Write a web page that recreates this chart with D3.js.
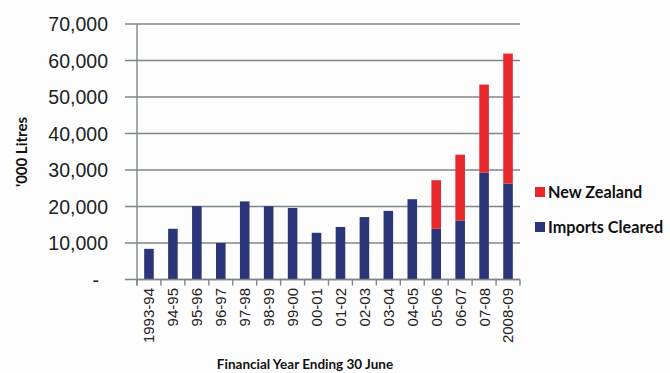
<!DOCTYPE html>
<html>
<head>
<meta charset="utf-8">
<script src="https://cdn.jsdelivr.net/npm/d3@7"></script>
<style>
  html, body { margin: 0; padding: 0; background: #fdfdfd; }
  svg { display: block; }
</style>
</head>
<body>
<svg id="chart" width="670" height="373"></svg>
<script>
// Financial years (ending 30 June)
const years = ["1993-94","94-95","95-96","96-97","97-98","98-99","99-00","00-01",
               "01-02","02-03","03-04","04-05","05-06","06-07","07-08","2008-09"];
// '000 litres, imports cleared
const importsCleared = [8400, 13900, 20100, 10000, 21400, 20100, 19600, 12800,
                        14400, 17100, 18800, 22000, 13900, 16200, 29300, 26300];
// '000 litres, from New Zealand
const newZealand = [0, 0, 0, 0, 0, 0, 0, 0,
                    0, 0, 0, 0, 13300, 18000, 24100, 35600];
const yTicks = [0, 10000, 20000, 30000, 40000, 50000, 60000, 70000];
const seriesNames = ["Imports Cleared", "New Zealand"];
const seriesColors = ["#2a3678", "#e8282c"];

const svg = d3.select("#chart");
const plotLeft = 137, plotRight = 520, plotTop = 24, plotBottom = 279.5;

const x = d3.scaleBand().domain(years).range([plotLeft, plotRight]).paddingInner(0.6).paddingOuter(0.3);
const y = d3.scaleLinear().domain([0, 70000]).range([plotBottom, plotTop]);

const rows = years.map((yr, i) => ({ year: yr, "Imports Cleared": importsCleared[i], "New Zealand": newZealand[i] }));
const stacked = d3.stack().keys(seriesNames)(rows);

// gridlines with outward ticks on the value axis
svg.append("g").selectAll("line").data(yTicks).join("line")
  .attr("x1", plotLeft - 12).attr("x2", plotRight)
  .attr("y1", d => y(d)).attr("y2", d => y(d))
  .attr("stroke", "#7d8787").attr("stroke-width", 1.4);

// value axis labels
svg.append("g").selectAll("text").data(yTicks).join("text")
  .attr("x", d => d === 0 ? 99 : 108)
  .attr("y", d => y(d))
  .attr("dy", "0.36em")
  .attr("text-anchor", "end")
  .attr("font-family", "Liberation Sans, Arial, sans-serif")
  .attr("font-size", 19.5)
  .attr("fill", "#222")
  .text(d => d === 0 ? "-" : d3.format(",")(d));

// bars
svg.append("g").selectAll("g").data(stacked).join("g")
  .attr("fill", (d, i) => seriesColors[i])
  .selectAll("rect").data(d => d).join("rect")
  .attr("x", d => x(d.data.year))
  .attr("width", x.bandwidth())
  .attr("y", d => y(d[1]))
  .attr("height", d => y(d[0]) - y(d[1]));

// category axis
const xAxis = d3.axisBottom(x).tickSize(0).tickFormat(d => d);
const gx = svg.append("g").attr("transform", `translate(0,${plotBottom})`).call(xAxis);
gx.select(".domain").remove();
gx.selectAll("text")
  .attr("font-family", "Liberation Sans, Arial, sans-serif")
  .attr("font-size", 15)
  .attr("fill", "#222")
  .attr("transform", "rotate(-90)")
  .attr("text-anchor", "end")
  .attr("x", -8.5)
  .attr("y", 0)
  .attr("dy", "0.36em");

// category separators
const bounds = d3.range(years.length + 1).map(i => plotLeft + i * (plotRight - plotLeft) / years.length);
svg.append("g").selectAll("line").data(bounds).join("line")
  .attr("x1", d => d).attr("x2", d => d)
  .attr("y1", plotBottom).attr("y2", plotBottom + 6)
  .attr("stroke", "#7d8787").attr("stroke-width", 1.4);

// axis lines
svg.append("line").attr("x1", plotLeft).attr("x2", plotLeft).attr("y1", plotTop).attr("y2", plotBottom + 6)
  .attr("stroke", "#7d8787").attr("stroke-width", 1.4);
svg.append("line").attr("x1", plotLeft).attr("x2", plotRight).attr("y1", plotBottom).attr("y2", plotBottom)
  .attr("stroke", "#7d8787").attr("stroke-width", 1.4);

// axis titles
svg.append("text")
  .attr("transform", "translate(26.5,152) rotate(-90)")
  .attr("text-anchor", "middle")
  .attr("font-family", "Lato, Open Sans, sans-serif")
  .attr("font-weight", "bold")
  .attr("font-size", 15)
  .attr("fill", "#111")
  .text("'000 Litres");

svg.append("text")
  .attr("x", 305).attr("y", 368.5)
  .attr("text-anchor", "middle")
  .attr("font-family", "Lato, Open Sans, sans-serif")
  .attr("font-weight", "bold")
  .attr("font-size", 13.5)
  .attr("fill", "#111")
  .text("Financial Year Ending 30 June");

// legend (New Zealand listed first)
const legendItems = [
  { name: "New Zealand", color: seriesColors[1], y: 192 },
  { name: "Imports Cleared", color: seriesColors[0], y: 227 }
];
const lg = svg.append("g").selectAll("g").data(legendItems).join("g")
  .attr("transform", d => `translate(535,${d.y})`);
lg.append("rect").attr("x", 0).attr("y", -5).attr("width", 10).attr("height", 10)
  .attr("fill", d => d.color);
lg.append("text").attr("x", 13).attr("y", 0).attr("dy", "0.36em")
  .attr("font-family", "Lato, Open Sans, sans-serif")
  .attr("font-weight", "bold")
  .attr("font-size", 16.2)
  .attr("fill", "#111")
  .text(d => d.name);
</script>
</body>
</html>
